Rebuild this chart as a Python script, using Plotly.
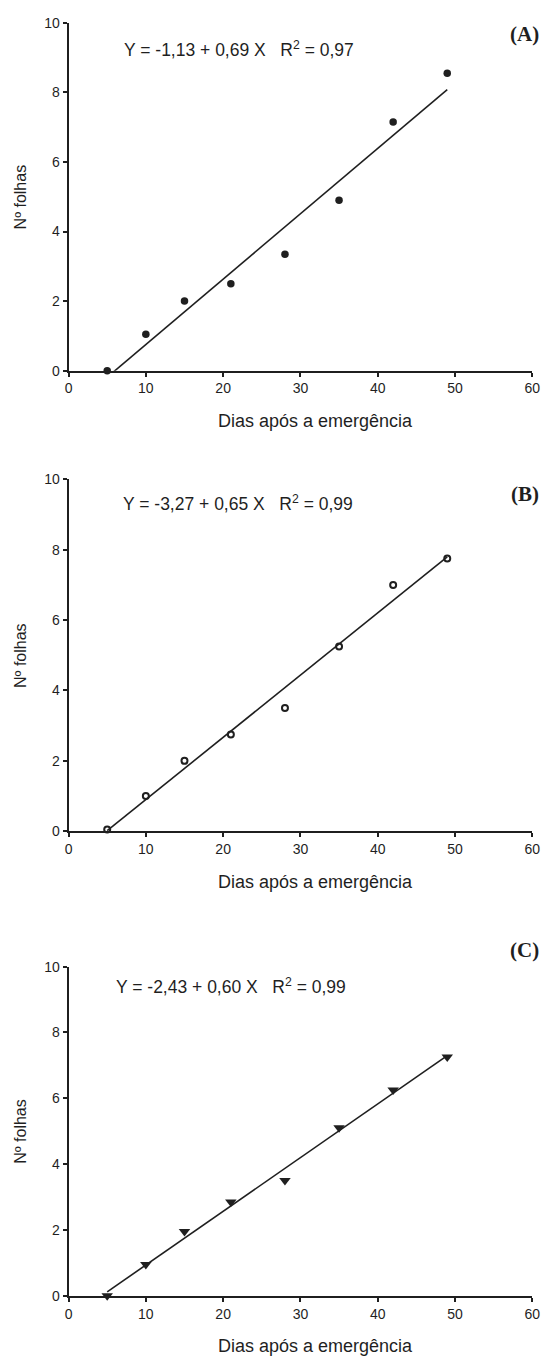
import numpy as np
import plotly.graph_objects as go

# Days after emergence and leaf counts for the three treatments
dias = [5, 10, 15, 21, 28, 35, 42, 49]
folhas_a = [0.0, 1.05, 2.0, 2.5, 3.35, 4.9, 7.15, 8.55]
folhas_b = [0.05, 1.0, 2.0, 2.75, 3.5, 5.25, 7.0, 7.75]
folhas_c = [0.0, 0.95, 1.95, 2.85, 3.5, 5.1, 6.25, 7.25]

equacoes = [
    "Y = -1,13 + 0,69 X   R<sup>2</sup> = 0,97",
    "Y = -3,27 + 0,65 X   R<sup>2</sup> = 0,99",
    "Y = -2,43 + 0,60 X   R<sup>2</sup> = 0,99",
]
paineis = ["(A)", "(B)", "(C)"]
titulo_x = "Dias após a emergência"
titulo_y = "Nº folhas"
x_ticks = [0, 10, 20, 30, 40, 50, 60]
y_ticks = [0, 2, 4, 6, 8, 10]

W, H = 552, 1363
INK = "#1f1f1f"
FONT = "Liberation Sans, Arial, sans-serif"
SERIF = "Liberation Serif, Times New Roman, serif"


def px_x(p):
    return p / W


def px_y(p):
    return 1 - p / H


# plot areas in pixels: (top, bottom) for each panel
areas = [(15, 367), (477, 833), (970, 1303)]
x_left, x_right = 66, 540
eq_pos = [(121, 41), (120, 501), (112, 990)]
lab_pos = [(549, 26), (549, 492), (549, 953)]

markers = [
    dict(symbol="circle", size=7.5, color=INK),
    dict(symbol="circle-open", size=6, color=INK, line=dict(width=2, color=INK)),
    dict(symbol="triangle-down", size=10, color=INK),
]
series = [folhas_a, folhas_b, folhas_c]

fig = go.Figure()
annotations = []
layout = {}


def note(text, x, y, size, family=FONT, xanchor="center", angle=0):
    annotations.append(dict(text=text, xref="paper", yref="paper",
                            x=px_x(x), y=px_y(y), xanchor=xanchor, yanchor="middle",
                            textangle=angle, showarrow=False,
                            font=dict(family=family, size=size, color=INK)))


for i, (ys, mk) in enumerate(zip(series, markers)):
    n = "" if i == 0 else str(i + 1)
    xa, ya = "x" + n, "y" + n
    # linear regression through the observations
    coef = np.polyfit(dias, ys, 1)
    xf = np.array([dias[0], dias[-1]])
    yf = np.polyval(coef, xf)
    fig.add_trace(go.Scatter(x=xf, y=yf, mode="lines", xaxis=xa, yaxis=ya,
                             line=dict(color=INK, width=1.6), showlegend=False,
                             hoverinfo="skip"))
    fig.add_trace(go.Scatter(x=dias, y=ys, mode="markers", xaxis=xa, yaxis=ya,
                             marker=mk, cliponaxis=False, showlegend=False))

    top, bot = areas[i]
    common = dict(showgrid=False, zeroline=False, showline=True, linecolor=INK,
                  linewidth=2, ticks="outside", ticklen=4, tickwidth=1.5,
                  tickcolor=INK, tickfont=dict(family=FONT, size=14, color=INK))
    layout["xaxis" + n] = dict(common, domain=[px_x(x_left), px_x(x_right)],
                               anchor=ya, range=[0, 60], tickvals=x_ticks)
    layout["yaxis" + n] = dict(common, domain=[px_y(bot), px_y(top)],
                               anchor=xa, range=[0, 10], tickvals=y_ticks)

    # axis titles
    note(titulo_x, 318, bot + 51, 18)
    note(titulo_y, 17, (top + bot) / 2, 16, angle=-90)

    ex, ey = eq_pos[i]
    note(equacoes[i], ex, ey, 17.5, xanchor="left")
    lx, ly = lab_pos[i]
    note("<b>" + paineis[i] + "</b>", lx, ly, 21, family=SERIF, xanchor="right")

fig.update_layout(width=W, height=H, margin=dict(l=0, r=0, t=0, b=0),
                  paper_bgcolor="white", plot_bgcolor="white",
                  annotations=annotations, **layout)

fig.write_html("out.html")
